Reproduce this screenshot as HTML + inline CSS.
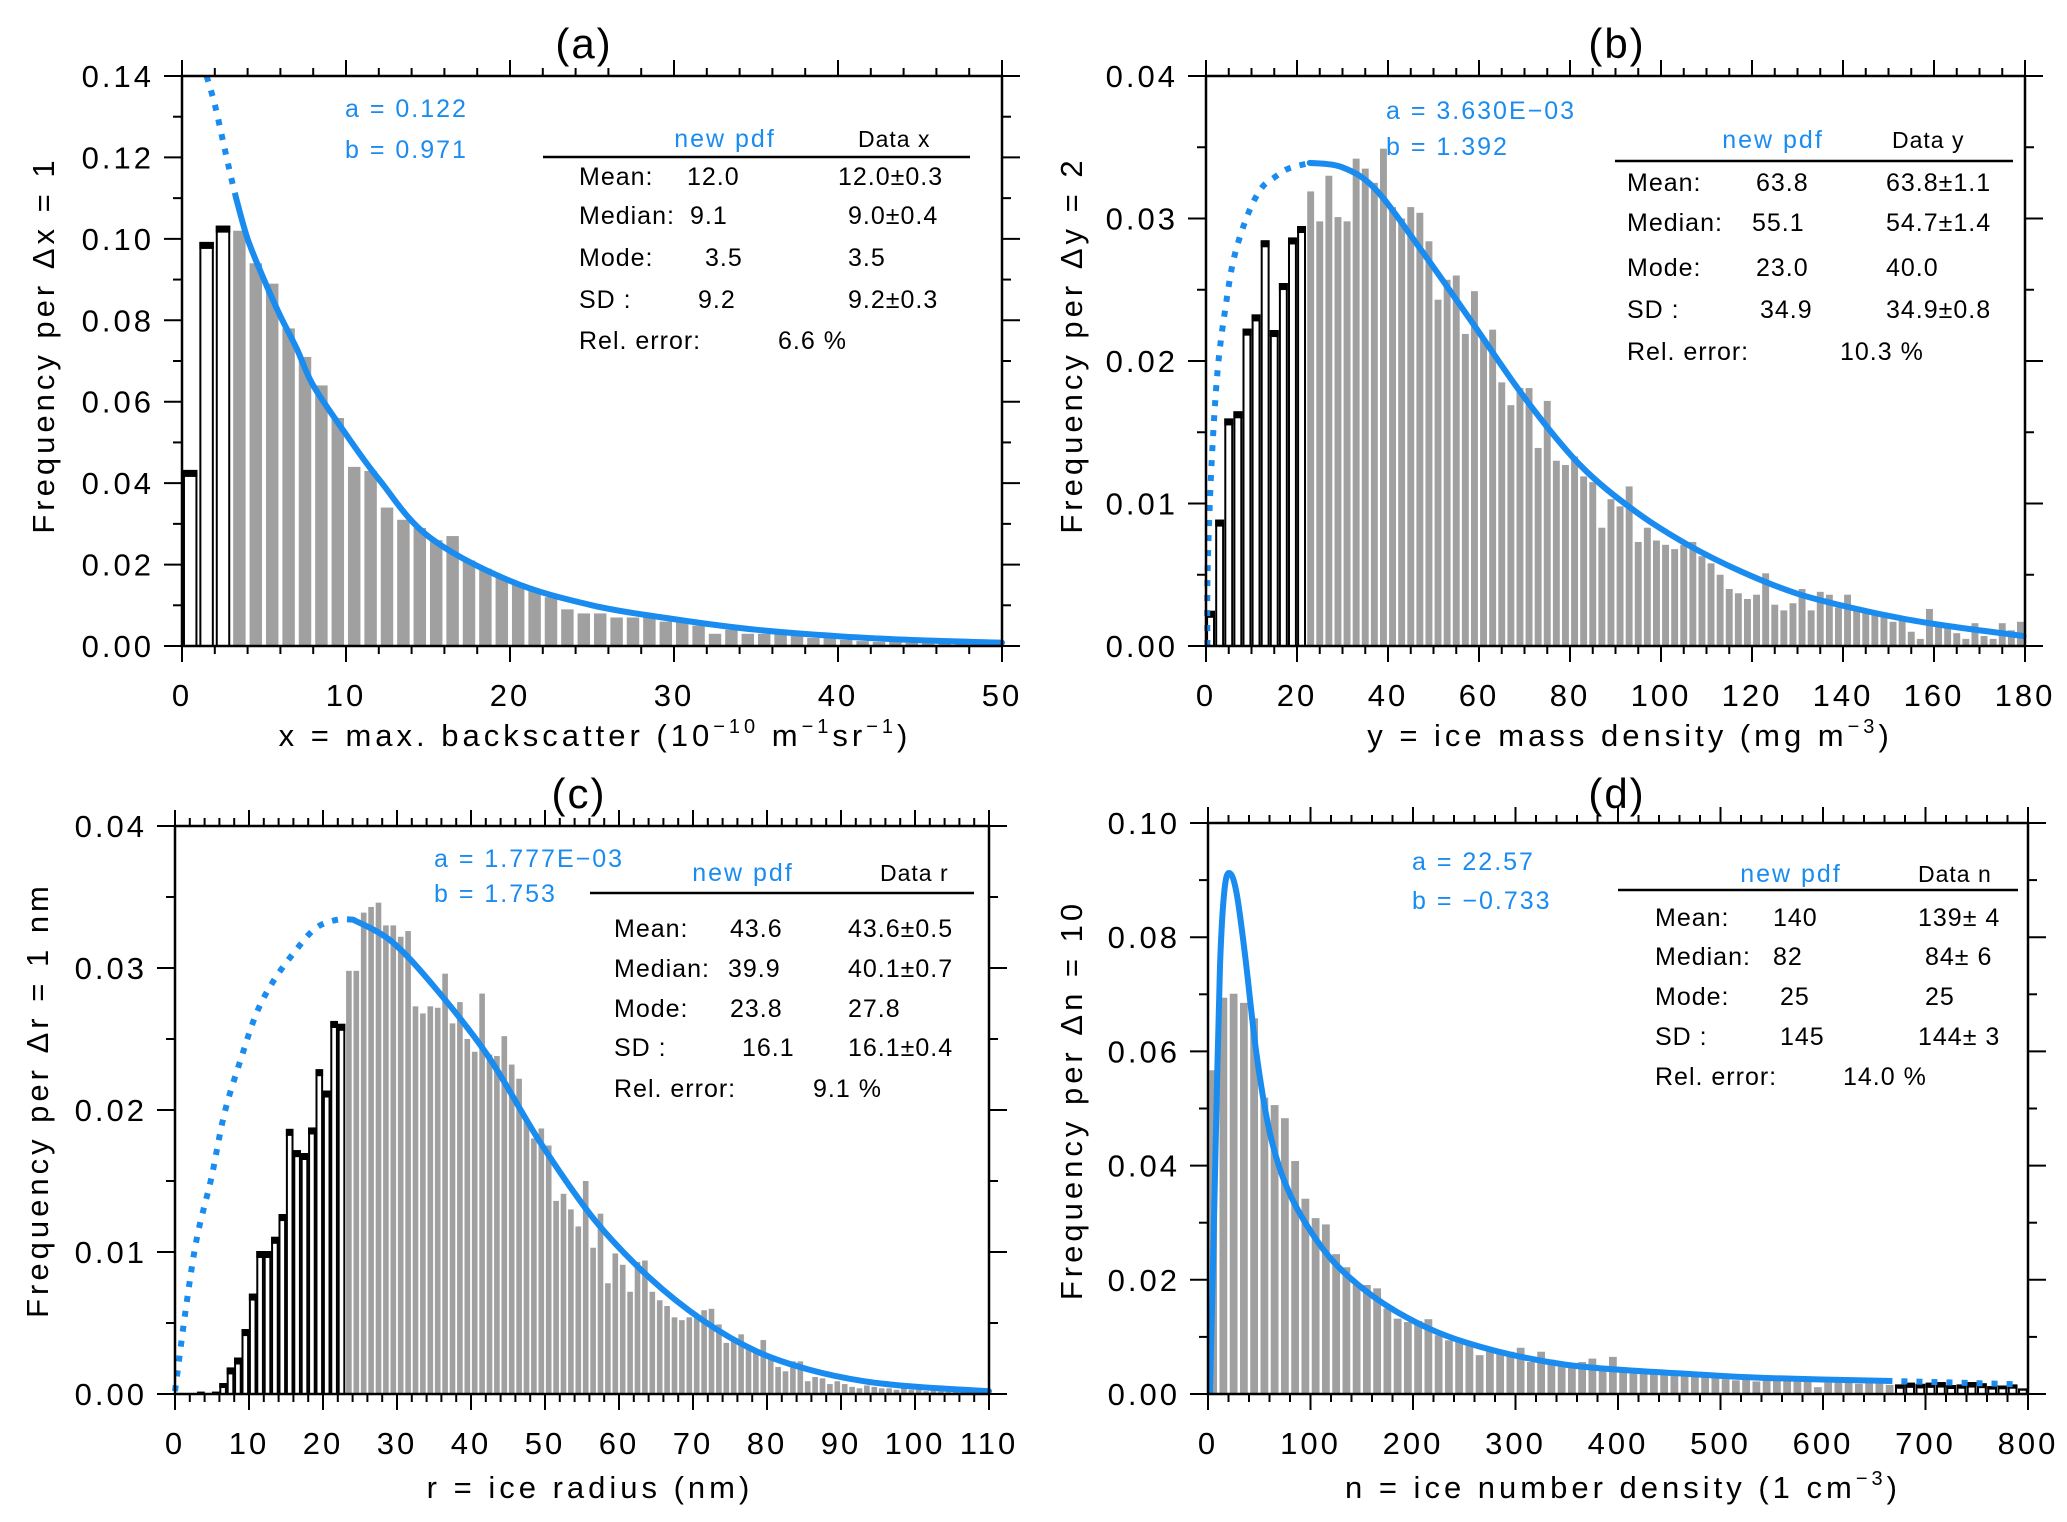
<!DOCTYPE html>
<html><head><meta charset="utf-8">
<style>
html,body{margin:0;padding:0;background:#fff;}
svg{display:block;font-family:"Liberation Sans","DejaVu Sans",sans-serif;}
</style></head>
<body>
<svg id="fig" width="2067" height="1522" viewBox="0 0 2067 1522" xmlns="http://www.w3.org/2000/svg">
<rect width="2067" height="1522" fill="#fff"/>
<!-- panel titles -->
<g font-size="42" letter-spacing="2">
<text x="584" y="58" text-anchor="middle">(a)</text>
<text x="1617" y="58" text-anchor="middle">(b)</text>
<text x="579" y="808" text-anchor="middle">(c)</text>
<text x="1617" y="808" text-anchor="middle">(d)</text>
</g>
<!-- axis titles -->
<g font-size="31" letter-spacing="4">
<text x="595" y="746" text-anchor="middle">x = max. backscatter (10<tspan font-size="20" dy="-13">−10</tspan><tspan dy="13"> m</tspan><tspan font-size="20" dy="-13">−1</tspan><tspan dy="13">sr</tspan><tspan font-size="20" dy="-13">−1</tspan><tspan dy="13">)</tspan></text>
<text x="1630" y="746" text-anchor="middle">y = ice mass density (mg  m<tspan font-size="20" dy="-13">−3</tspan><tspan dy="13">)</tspan></text>
<text x="590" y="1498" text-anchor="middle">r = ice radius (nm)</text>
<text x="1623" y="1498" text-anchor="middle">n = ice number density (1  cm<tspan font-size="20" dy="-13">−3</tspan><tspan dy="13">)</tspan></text>
<text transform="translate(54,345) rotate(-90)" text-anchor="middle">Frequency  per  Δx  =  1</text>
<text transform="translate(1082,345) rotate(-90)" text-anchor="middle">Frequency  per  Δy  =  2</text>
<text transform="translate(48,1100) rotate(-90)" text-anchor="middle">Frequency  per  Δr  =  1  nm</text>
<text transform="translate(1082,1100) rotate(-90)" text-anchor="middle">Frequency  per  Δn  =  10</text>
</g>
<!-- annotations -->
<g font-size="25" fill="#1a8cf0" letter-spacing="2">
<text x="345" y="117">a  =  0.122</text>
<text x="345" y="158">b  =  0.971</text>
<text x="1386" y="119">a  =  3.630E−03</text>
<text x="1386" y="155">b  =    1.392</text>
<text x="434" y="867">a  =  1.777E−03</text>
<text x="434" y="902">b  =  1.753</text>
<text x="1412" y="870">a  =  22.57</text>
<text x="1412" y="909">b  =  −0.733</text>
</g>
<g id="tables" font-size="25" letter-spacing="1"></g>
<g id="panels"></g>
</svg>
<script>
// ---- data (frequencies in units of 1e-3) ----
const binsA = [43,99,103,102,94,89,78,71,64,56,44,43,34,31,29,26,27,21,19,17,15,14,12,9,8,8,7,7,7.5,6,6.5,5,3,4,3,3,3.5,2.5,2,2,1.5,1.2,1,1,0.8,0.7,0.6,0.5,0.5,0.4];
const binsB = [2.4,8.8,15.9,16.4,22.2,23.2,28.4,22.1,25.4,28.6,29.4,
31.9,29.8,33.0,30.1,29.8,34.2,33.5,32.5,34.9,30.8,30.0,30.8,30.4,28.4,24.3,25.7,26.0,21.9,
24.9,21.6,22.2,18.5,16.9,18.1,18.1,13.9,17.2,13.0,12.7,13.3,11.9,11.5,8.3,10.3,9.8,11.2,7.3,8.3,7.4,7.1,6.8,7.1,7.3,6.3,5.8,5.0,4.0,3.7,3.3,3.6,5.1,2.9,2.5,3.0,4.0,2.5,3.8,3.6,2.7,3.6,2.6,2.6,2.2,2.2,1.7,2.1,1.0,0.5,2.6,1.4,1.4,0.9,0.5,1.6,0.7,0.5,1.6,1.1,1.7];
const binsC = [0,0,0,0.1,0,0.1,0.7,1.8,2.5,4.5,7.0,10.0,10.0,11.0,12.6,18.6,17.1,16.9,18.7,22.8,21.3,26.2,26.0,
29.8,29.8,33.9,34.3,34.6,33.0,33.0,32.2,32.6,27.3,26.8,27.3,27.2,29.6,26.1,27.6,25.0,24.1,28.2,23.9,23.8,25.2,23.2,22.2,19.3,18.0,18.7,17.5,13.6,14.1,13.0,11.8,15.0,10.3,12.7,7.8,9.9,9.1,7.2,9.3,9.4,7.2,6.6,6.2,5.4,5.2,5.4,5.6,5.9,6.0,4.9,3.6,3.9,4.2,3.4,3.1,3.8,2.5,1.9,1.6,2.3,2.3,0.9,1.2,1.1,0.7,0.9,0.7,0.5,0.4,0.6,0.5,0.4,
0.4,0.3,0.4,0.3,0.3,0.2,0.3,0.2,0.2,0.2,0.1,0.2,0.1,0.1];
const binsD = [56.7,69.4,70.1,68.5,65.8,51.9,50.6,48.3,40.8,34.2,30.8,29.7,24.5,22.2,19.2,19.1,18.5,15.0,13.2,12.6,12.8,13.1,10.3,9.4,9.4,8.8,6.8,7.7,7.3,7.4,8.1,5.6,7.4,6.0,5.6,5.4,5.6,6.2,4.7,6.5,4.3,
4.1,3.9,3.6,4.0,3.7,3.3,3.5,3.2,2.8,2.6,2.4,3.0,2.2,2.8,2.5,2.6,2.3,2.1,1.2,2.0,2.2,2.0,1.8,2.0,1.9,
1.6,1.5,1.8,1.6,1.8,1.9,1.4,1.5,1.9,1.7,1.2,1.3,1.5,0.8];
// fitted pdf curves: [x, freq(1e-3)]
const dotA = [[1.5,140],[2.0,133],[2.5,124],[3.0,115],[3.3,110]];
const fitA = [[3.3,110],[4,100],[5,90],[6,81],[7,73],[8,64],[10,52],[12,41],[15,27],[20,16],[25,10],[30,6.6],[35,4],[40,2.4],[45,1.4],[50,0.8]];
const dotB = [[0.3,0],[0.35,5.2],[1.2,12.7],[2.6,19.5],[4.4,24.0],[6.2,27.3],[9.1,30.2],[12.1,32.1],[15.1,32.9],[18.1,33.5],[22.8,33.9]];
const fitB = [[22.8,33.9],[29.9,33.6],[37.1,32.1],[46.6,28.1],[58.5,22.7],[70.3,17.3],[82.2,12.7],[94.1,9.5],[105.9,7.1],[117.8,5.2],[129.7,3.7],[141.6,2.7],[153.5,1.9],[165.4,1.3],[179.7,0.7]];
const dotC = [[0,0.2],[1.6,6.5],[3.0,11.1],[4.9,15.2],[6.7,19.8],[8.9,23.6],[11.0,26.8],[13.2,29.0],[16.1,31.1],[19.0,32.8],[21.9,33.4],[24.1,33.4]];
const fitC = [[24.1,33.4],[29.2,31.9],[35.0,28.7],[42.3,23.8],[49.5,17.6],[56.8,12.2],[64.1,8.2],[71.3,5.2],[78.6,3.0],[85.8,1.7],[93.1,0.9],[100.4,0.5],[110,0.2]];
const fitD = [[2,0.4],[5.2,25],[8.4,51],[11.7,75],[16.2,88.5],[21.4,91.2],[28,87.6],[36.4,76.5],[47.4,59.4],[60.4,45.7],[76.7,36.3],[102.7,27.8],[135,20.9],[187,14.1],[252,9.0],[350,5.1],[480,3.4],[545,2.8],[662,2.3]];
const dotD = [[662,2.3],[792,1.7]];
// table texts
const tableRows = ["Mean:","Median:","Mode:","SD :","Rel. error:"];
const tabA = [["12.0","9.1","3.5","9.2"],["12.0±0.3","9.0±0.4","3.5","9.2±0.3"],"6.6  %"];
const tabB = [["63.8","55.1","23.0","34.9"],["63.8±1.1","54.7±1.4","40.0","34.9±0.8"],"10.3  %"];
const tabC = [["43.6","39.9","23.8","16.1"],["43.6±0.5","40.1±0.7","27.8","16.1±0.4"],"9.1  %"];
const tabD = [["140","82","25","145"],["139± 4","84± 6","25","144± 3"],"14.0  %"];
const xTicksA=[0,10,20,30,40,50], xTicksB=[0,20,40,60,80,100,120,140,160,180], xTicksC=[0,10,20,30,40,50,60,70,80,90,100,110], xTicksD=[0,100,200,300,400,500,600,700,800];
const yTicksA=[0,20,40,60,80,100,120,140], yTicksB=[0,10,20,30,40], yTicksC=[0,10,20,30,40], yTicksD=[0,20,40,60,80,100];

const NS="http://www.w3.org/2000/svg";
const root=document.getElementById('panels');
function mk(tag,attrs,parent){const e=document.createElementNS(NS,tag);for(const k in attrs)e.setAttribute(k,attrs[k]);(parent||root).appendChild(e);return e;}

const panels=[
 {id:'a',L:182,R:1002,T:76,B:646,xmax:50,ymax:140,bw:1,bins:binsA,out:[0,3],xt:xTicksA,xmin:2,yt:yTicksA,ymin:10,fit:fitA,dot:dotA,tab:tabA,
  tb:{np:725,npy:138,data:858,dl:"Data  x",ly:157,lx1:543,lx2:970,rows:[176,215,257,299,340],lab:579,c1:[687,690,705,698],c2:[838,848,848,848],rel:778}},
 {id:'b',L:1206,R:2025,T:76,B:646,xmax:180,ymax:40,bw:2,bins:binsB,out:[0,22],xt:xTicksB,xmin:5,yt:yTicksB,ymin:5,fit:fitB,dot:dotB,tab:tabB,
  tb:{np:1773,npy:139,data:1892,dl:"Data  y",ly:161,lx1:1615,lx2:2013,rows:[182,222,267,309,351],lab:1627,c1:[1756,1752,1756,1760],c2:[1886,1886,1886,1886],rel:1840}},
 {id:'c',L:175,R:989,T:826,B:1394,xmax:110,ymax:40,bw:1,bins:binsC,out:[0,23],xt:xTicksC,xmin:2,yt:yTicksC,ymin:5,fit:fitC,dot:dotC,tab:tabC,
  tb:{np:743,npy:872,data:880,dl:"Data  r",ly:893,lx1:590,lx2:974,rows:[928,968,1008,1047,1088],lab:614,c1:[730,728,730,742],c2:[848,848,848,848],rel:813}},
 {id:'d',L:1208,R:2028,T:823,B:1394,xmax:800,ymax:100,bw:10,bins:binsD,out:[670,800],xt:xTicksD,xmin:20,yt:yTicksD,ymin:10,fit:fitD,dot:dotD,tab:tabD,
  tb:{np:1791,npy:873,data:1918,dl:"Data  n",ly:890,lx1:1618,lx2:2018,rows:[917,956,996,1036,1076],lab:1655,c1:[1773,1773,1780,1780],c2:[1918,1925,1925,1918],rel:1843}}
];

function smoothPath(pts){
  let d="M"+pts[0][0].toFixed(1)+","+pts[0][1].toFixed(1);
  for(let i=0;i<pts.length-1;i++){
    const p0=pts[Math.max(0,i-1)],p1=pts[i],p2=pts[i+1],p3=pts[Math.min(pts.length-1,i+2)];
    const c1=[p1[0]+(p2[0]-p0[0])/6,p1[1]+(p2[1]-p0[1])/6];
    const c2=[p2[0]-(p3[0]-p1[0])/6,p2[1]-(p3[1]-p1[1])/6];
    d+=" C"+c1.map(v=>v.toFixed(1))+" "+c2.map(v=>v.toFixed(1))+" "+p2[0].toFixed(1)+","+p2[1].toFixed(1);
  }
  return d;
}

panels.forEach(p=>{
  const g=mk('g',{});
  
  
  const xs=v=>p.L+(v/p.xmax)*(p.R-p.L);
  const ys=v=>p.B-(v/p.ymax)*(p.B-p.T);
  const binPx=xs(p.bw)-xs(0);
  p.bins.forEach((v,i)=>{
    const x0=i*p.bw, x1=x0+p.bw;
    const outl = x0>=p.out[0] && x1<=p.out[1];
    const bx=xs(x0)+binPx*0.12, bwid=binPx*0.76, top=ys(v), h=p.B-top;
    if(outl){
      const r=mk('rect',{x:bx,y:top,width:bwid,height:Math.max(h,0),fill:'#fff',stroke:'#000','stroke-width':2},g);
      
      
      if(h>2){const c=mk('rect',{x:bx-1,y:top-1,width:bwid+2,height:Math.min(7,h*0.5),fill:'#000'},g);
      
      }
    }else{
      const r=mk('rect',{x:bx,y:top,width:bwid,height:Math.max(h,0),fill:'#a0a0a0'},g);
      
      
    }
  });
  const dp=mk('path',{d:smoothPath(p.dot.map(q=>[xs(q[0]),ys(q[1])])),fill:'none',stroke:'#1a8cf0','stroke-width':6,'stroke-dasharray':'6 9'},g);
  
  
  const fp=mk('path',{d:smoothPath(p.fit.map(q=>[xs(q[0]),ys(q[1])])),fill:'none',stroke:'#1a8cf0','stroke-width':6,'stroke-linecap':'round'},g);
  
  
  const fr=mk('rect',{x:p.L,y:p.T,width:p.R-p.L,height:p.B-p.T,fill:'none',stroke:'#000','stroke-width':2.5},g);
  
  
  for(let v=0;v<=p.xmax+1e-9;v+=p.xmin){
    const major=p.xt.some(t=>Math.abs(t-v)<1e-6);
    const len=major?16:8, x=xs(v);
    mk('line',{x1:x,y1:p.B,x2:x,y2:p.B+len,stroke:'#000','stroke-width':2},g);
    mk('line',{x1:x,y1:p.T,x2:x,y2:p.T-len,stroke:'#000','stroke-width':2},g);
  }
  p.xt.forEach(v=>{
    const t=mk('text',{x:xs(v),y:706,'font-size':31,'letter-spacing':3,'text-anchor':'middle'},g);
    if(p.id==='c'||p.id==='d') t.setAttribute('y',1454);
    t.textContent=v;
    
    
  });
  for(let v=0;v<=p.ymax+1e-9;v+=p.ymin){
    const major=p.yt.some(t=>Math.abs(t-v)<1e-6);
    const len=major?18:9, y=ys(v);
    mk('line',{x1:p.L,y1:y,x2:p.L-len,y2:y,stroke:'#000','stroke-width':2},g);
    mk('line',{x1:p.R,y1:y,x2:p.R+len,y2:y,stroke:'#000','stroke-width':2},g);
  }
  p.yt.forEach(v=>{
    const t=mk('text',{x:p.L-28,y:ys(v)+11,'font-size':31,'letter-spacing':3,'text-anchor':'end'},g);
    t.textContent=(v/1000).toFixed(2);
    
    
  });
  const tg=document.getElementById('tables');
  const tb=p.tb;
  const np=mk('text',{x:tb.np,y:tb.npy+9,fill:'#1a8cf0','text-anchor':'middle','letter-spacing':2},tg);
  np.textContent='new  pdf';
  
  
  const dl=mk('text',{x:tb.data,y:tb.npy+9,'font-size':23},tg);
  dl.textContent=tb.dl;
  
  
  const ln=mk('line',{x1:tb.lx1,x2:tb.lx2,y1:tb.ly,y2:tb.ly,stroke:'#000','stroke-width':2.5},tg);
  
  
  tableRows.forEach((r,i)=>{
    const y=tb.rows[i]+9;
    const l=mk('text',{x:tb.lab,y:y},tg); l.textContent=r;
    
    
    if(i<4){
      const a=mk('text',{x:tb.c1[i],y:y},tg); a.textContent=p.tab[0][i];
      
      
      const b=mk('text',{x:tb.c2[i],y:y},tg); b.textContent=p.tab[1][i];
      
      
    }else{
      const a=mk('text',{x:tb.rel,y:y},tg); a.textContent=p.tab[2];
      
      
    }
  });
});
</script>
</body></html>
